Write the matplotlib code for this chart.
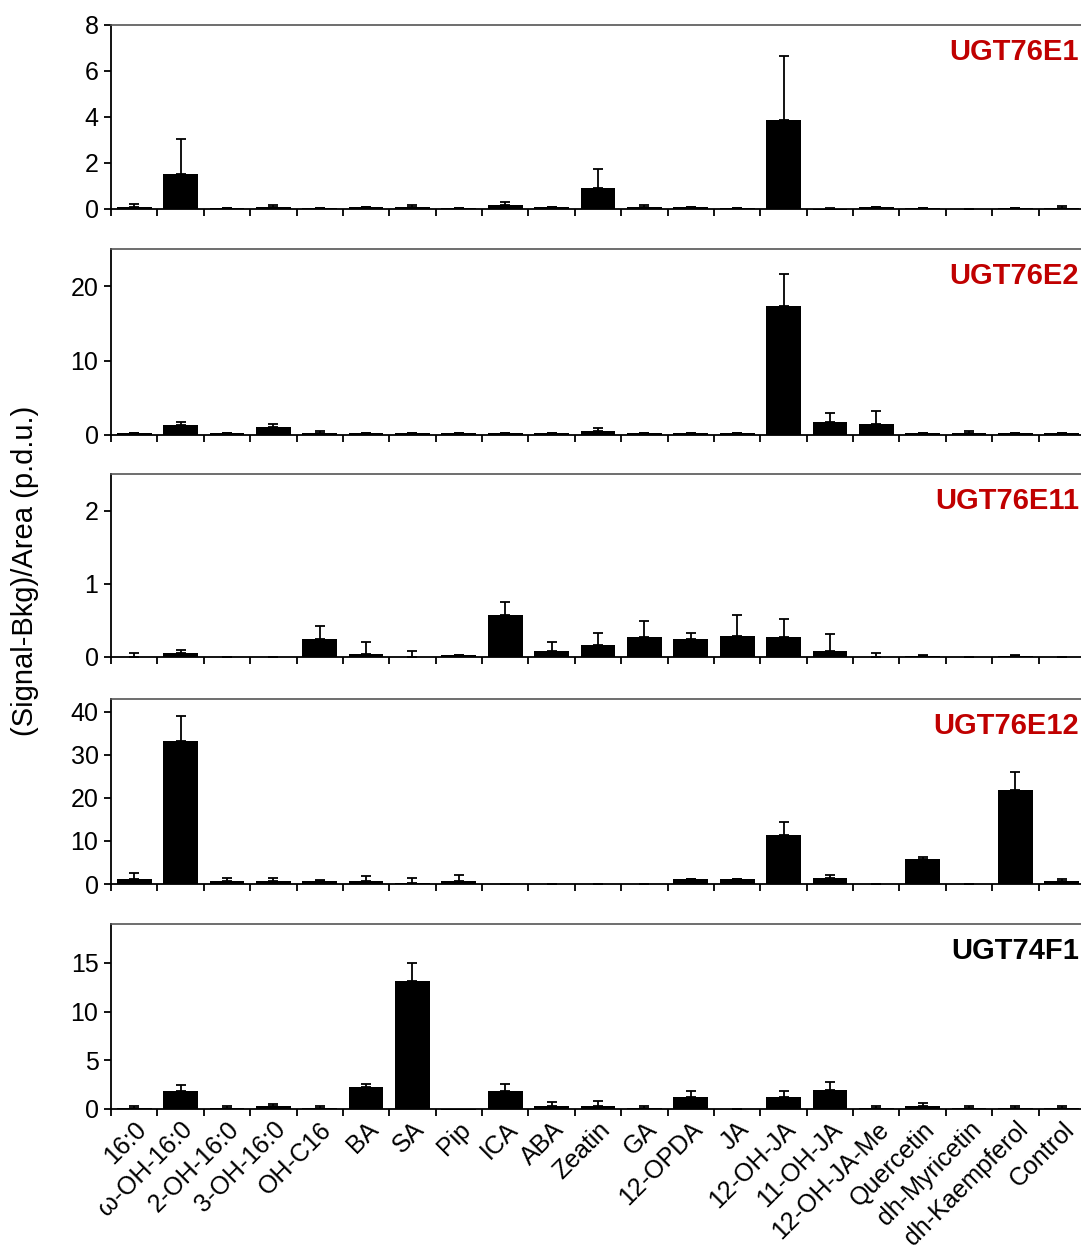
import numpy as np
import matplotlib
matplotlib.use("Agg")
import matplotlib.pyplot as plt

plt.rcParams["font.family"] = ["Liberation Sans", "DejaVu Sans"]

substrates = ["16:0", "ω-OH-16:0", "2-OH-16:0", "3-OH-16:0", "OH-C16", "BA", "SA",
              "Pip", "ICA", "ABA", "Zeatin", "GA", "12-OPDA", "JA", "12-OH-JA",
              "11-OH-JA", "12-OH-JA-Me", "Quercetin", "dh-Myricetin", "dh-Kaempferol",
              "Control"]

# mean activity and SD per enzyme
e1_mean = [0.08, 1.53, 0.05, 0.08, 0.05, 0.08, 0.08, 0.04, 0.17, 0.08, 0.90,
           0.09, 0.07, 0.03, 3.86, -0.04, 0.07, 0.03, 0.0, 0.06, 0.06]
e1_sd = [0.15, 1.50, 0.0, 0.09, 0.0, 0.02, 0.09, 0.0, 0.14, 0.01, 0.85,
         0.08, 0.0, 0.03, 2.80, 0.10, 0.0, 0.03, 0.0, 0.0, 0.09]

e2_mean = [0.27, 1.36, 0.27, 1.03, 0.27, 0.27, 0.27, 0.27, 0.27, 0.27, 0.54,
           0.27, 0.27, 0.27, 17.3, 1.80, 1.53, 0.27, 0.27, 0.27, 0.27]
e2_sd = [0.0, 0.40, 0.0, 0.50, 0.27, 0.0, 0.0, 0.0, 0.0, 0.0, 0.45,
         0.0, 0.0, 0.0, 4.3, 1.18, 1.73, 0.0, 0.27, 0.0, 0.0]

e11_mean = [0.005, 0.06, 0.0, 0.0, 0.24, 0.037, 0.005, 0.03, 0.57, 0.08, 0.165,
            0.27, 0.24, 0.29, 0.27, 0.08, 0.005, 0.01, 0.0, 0.01, 0.0]
e11_sd = [0.045, 0.04, 0.0, 0.0, 0.18, 0.17, 0.075, 0.0, 0.18, 0.13, 0.165,
          0.22, 0.09, 0.28, 0.25, 0.23, 0.045, 0.02, 0.0, 0.02, 0.0]

e12_mean = [1.07, 33.2, 0.6, 0.6, 0.6, 0.6, 0.2, 0.6, 0.1, 0.1, 0.1,
            0.1, 1.07, 1.07, 11.5, 1.5, 0.1, 5.85, 0.1, 21.8, 0.6]
e12_sd = [1.6, 5.9, 0.8, 0.8, 0.4, 1.2, 1.2, 1.6, 0.0, 0.0, 0.0,
          0.0, 0.0, 0.0, 2.9, 0.7, 0.0, 0.35, 0.0, 4.3, 0.45]

f1_mean = [0.1, 1.87, 0.1, 0.27, 0.1, 2.24, 13.1, -0.1, 1.87, 0.27, 0.3,
           0.1, 1.28, 0.0, 1.28, 2.0, 0.1, 0.27, 0.1, 0.1, 0.1]
f1_sd = [0.17, 0.55, 0.17, 0.21, 0.17, 0.35, 1.9, 0.0, 0.69, 0.42, 0.5,
         0.17, 0.52, 0.0, 0.52, 0.73, 0.17, 0.35, 0.17, 0.17, 0.17]

panels = [
    ("UGT76E1", "#c00000", e1_mean, e1_sd, 8, [0, 2, 4, 6, 8]),
    ("UGT76E2", "#c00000", e2_mean, e2_sd, 25, [0, 10, 20]),
    ("UGT76E11", "#c00000", e11_mean, e11_sd, 2.5, [0, 1, 2]),
    ("UGT76E12", "#c00000", e12_mean, e12_sd, 43, [0, 10, 20, 30, 40]),
    ("UGT74F1", "black", f1_mean, f1_sd, 19, [0, 5, 10, 15]),
]

W, H = 1081, 1245
fig = plt.figure(figsize=(W / 100, H / 100), dpi=100)

# axes boxes in pixels: (top, bottom)
boxes = [(25, 209), (249, 435), (474, 657), (699, 884), (924, 1109)]
left_px, right_px = 111, 1085

x = np.arange(len(substrates))
for i, ((name, col, mean, sd, ymax, yt), (top, bot)) in enumerate(zip(panels, boxes)):
    ax = fig.add_axes([left_px / W, 1 - bot / H, (right_px - left_px) / W, (bot - top) / H])
    mean = np.array(mean)
    sd = np.array(sd)
    ax.bar(x, mean, width=0.75, color="black", clip_on=False,
           yerr=[np.zeros_like(sd), sd], capsize=3.8,
           error_kw=dict(elinewidth=1.3, capthick=1.3, ecolor="black"))
    ax.set_xlim(-0.5, len(substrates) - 0.5)
    ax.set_ylim(0, ymax)
    ax.set_yticks(yt)
    ax.set_yticklabels([str(v) for v in yt], fontsize=18)
    ax.set_xticks(np.arange(len(substrates) + 1) - 0.5)
    ax.set_xticklabels([])
    ax.tick_params(axis="both", direction="out", length=5, width=1.3, pad=4)
    ax.spines["right"].set_visible(False)
    ax.spines["left"].set_linewidth(1.3)
    ax.spines["bottom"].set_linewidth(1.3)
    ax.spines["top"].set_linewidth(1.2)
    ax.spines["top"].set_color("#555555")
    ax.text(0.994, 0.93, name, transform=ax.transAxes, ha="right", va="top",
            fontsize=21, fontweight="bold", color=col)
    if i == len(panels) - 1:
        ax.set_xticks(x, minor=True)
        ax.set_xticklabels(substrates, minor=True, rotation=45, ha="right",
                           va="top", rotation_mode="anchor", fontsize=18)
        ax.tick_params(axis="x", which="minor", length=0, pad=6)

fig.text(25 / W, 1 - 571 / H, "(Signal-Bkg)/Area (p.d.u.)", rotation=90,
         ha="center", va="center", fontsize=21)

fig.savefig("out.png", dpi=100)
